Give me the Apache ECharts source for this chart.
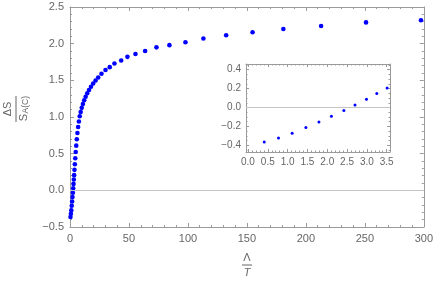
<!DOCTYPE html>
<html>
<head>
<meta charset="utf-8">
<script src="https://cdn.jsdelivr.net/npm/echarts@6/dist/echarts.min.js"></script>
<style>html,body{margin:0;padding:0;background:#fff;}#c{width:436px;height:282px;}</style>
</head>
<body>
<div id="c"></div>
<script>
// Λ/T values and ΔS/S_A(C) values
var lambdaOverT = [0.41, 0.77, 1.115, 1.46, 1.79, 2.105, 2.42, 2.70, 2.99, 3.25, 3.51,
  3.80, 4.12, 4.47, 4.86, 5.29, 5.77, 6.30, 6.89, 7.54, 8.26, 9.06, 9.95, 10.94, 12.04,
  13.26, 14.62, 16.12, 17.79, 19.64, 21.7, 23.9, 26.7, 30.1, 33.7, 37.7, 43.4, 48.7,
  55.5, 63.7, 73.3, 84.3, 97.9, 113.1, 132.4, 154.8, 180.9, 212.9, 251, 297.6];
var deltaS = [-0.364, -0.321, -0.272, -0.211, -0.152, -0.092, -0.032, 0.027, 0.088, 0.148, 0.207,
  0.279, 0.356, 0.437, 0.522, 0.609, 0.697, 0.782, 0.863, 0.939, 1.010, 1.069, 1.125, 1.178, 1.229,
  1.277, 1.324, 1.369, 1.413, 1.456, 1.498, 1.539, 1.59, 1.64, 1.68, 1.73, 1.77, 1.82,
  1.86, 1.90, 1.95, 1.98, 2.02, 2.07, 2.115, 2.155, 2.20, 2.24, 2.29, 2.32];
var insetCount = 11;
var insetXTicks = [0, 0.5, 1.0, 1.5, 2.0, 2.5, 3.0, 3.5];
var insetYTicks = [-0.4, -0.2, 0.0, 0.2, 0.4];

var mainData = lambdaOverT.map(function (x, i) { return [x, deltaS[i]]; });
var insetData = mainData.slice(0, insetCount);

var minorX = [], minorY = [];
for (var k = 0; k <= 35; k++) { if (k % 5) minorX.push(k / 10); }
for (var k2 = -9; k2 <= 9; k2++) { if (k2 % 4) minorY.push(k2 * 0.05); }

var FRAME = '#9a9a9a', LABEL = '#666', FONT = '"Liberation Sans", Arial, sans-serif';
function fmt(v) { var s = Math.abs(v).toFixed(1); return v < -1e-9 ? '\u2212' + s : s; }
function fmtInt(v) { return String(Math.round(v)); }

function mainAxis(pos, opts, f) {
  var a = {
    type: 'value', gridIndex: 0, position: pos,
    axisLine: { show: true, onZero: false, lineStyle: { color: FRAME, width: 1 } },
    axisTick: { show: true, inside: true, length: 4, lineStyle: { color: FRAME } },
    minorTick: { show: true, splitNumber: 5, length: 2, lineStyle: { color: FRAME } },
    splitLine: { show: false }, minorSplitLine: { show: false },
    axisLabel: { show: pos === 'bottom' || pos === 'left', color: LABEL, fontSize: 11, fontFamily: FONT, margin: 6, formatter: f }
  };
  for (var k in opts) a[k] = opts[k];
  return a;
}
function insetAxis(pos, opts, ticks, len, labels, line) {
  var a = {
    type: 'value', gridIndex: 1, position: pos,
    axisLine: { show: line, onZero: false, lineStyle: { color: FRAME, width: 1 } },
    axisTick: { show: true, inside: true, length: len, customValues: ticks, lineStyle: { color: FRAME } },
    splitLine: { show: false },
    axisLabel: labels ? { show: true, customValues: ticks, color: LABEL, fontSize: 10, fontFamily: FONT, margin: 5, formatter: fmt } : { show: false }
  };
  for (var k in opts) a[k] = opts[k];
  return a;
}
var ix = { min: -0.05, max: 3.583 }, iy = { min: -0.47, max: 0.46 };
var mx = { min: 0, max: 300, interval: 50 }, my = { min: -0.5, max: 2.5, interval: 0.5 };

var chart = echarts.init(document.getElementById('c'), null, { renderer: 'canvas' });
chart.setOption({
  animation: false,
  backgroundColor: '#fff',
  grid: [
    { left: 70, top: 7, width: 354, height: 220 },
    { left: 246, top: 64, width: 144, height: 88 }
  ],
  xAxis: [
    mainAxis('bottom', mx, fmtInt), mainAxis('top', mx, fmtInt),
    insetAxis('bottom', ix, insetXTicks, 3, true, true),
    insetAxis('top', ix, insetXTicks, 3, false, true),
    insetAxis('bottom', ix, minorX, 1.5, false, false),
    insetAxis('top', ix, minorX, 1.5, false, false)
  ],
  yAxis: [
    mainAxis('left', my, fmt), mainAxis('right', my, fmt),
    insetAxis('left', iy, insetYTicks, 3, true, true),
    insetAxis('right', iy, insetYTicks, 3, false, true),
    insetAxis('left', iy, minorY, 1.5, false, false),
    insetAxis('right', iy, minorY, 1.5, false, false)
  ],
  series: [
    {
      type: 'scatter', xAxisIndex: 0, yAxisIndex: 0, data: mainData,
      symbolSize: 4.6, itemStyle: { color: '#0000ff', opacity: 1 }, silent: true,
      markLine: { silent: true, symbol: 'none', label: { show: false },
        lineStyle: { color: '#c4c4c4', width: 1, type: 'solid' }, data: [{ yAxis: 0 }] },
      z: 3
    },
    {
      type: 'scatter', xAxisIndex: 2, yAxisIndex: 2, data: insetData,
      symbolSize: 3, itemStyle: { color: '#0000ff', opacity: 1 }, silent: true,
      markLine: { silent: true, symbol: 'none', label: { show: false },
        lineStyle: { color: '#c4c4c4', width: 1, type: 'solid' }, data: [{ yAxis: 0 }] },
      z: 3
    }
  ],
  graphic: [
    {
      type: 'group', x: 16, y: 109, rotation: Math.PI / 2,
      children: [
        { type: 'text', x: 0, y: -3, style: { text: '\u0394S', textAlign: 'center', textVerticalAlign: 'bottom', fontSize: 11, fontFamily: FONT, fill: LABEL } },
        { type: 'line', shape: { x1: -13, y1: 0, x2: 13, y2: 0 }, style: { stroke: LABEL, lineWidth: 1 } },
        { type: 'text', x: -5, y: 2, style: { text: 'S', textAlign: 'right', textVerticalAlign: 'top', fontSize: 11, fontFamily: FONT, fill: LABEL } },
        { type: 'text', x: -4.5, y: 5, style: { text: 'A(C)', textAlign: 'left', textVerticalAlign: 'top', fontSize: 8.5, fontFamily: FONT, fill: LABEL } }
      ]
    },
    {
      type: 'group', x: 247, y: 265,
      children: [
        { type: 'text', x: 0, y: -2, style: { text: '\u039B', textAlign: 'center', textVerticalAlign: 'bottom', fontSize: 11, fontFamily: FONT, fill: LABEL } },
        { type: 'line', shape: { x1: -5, y1: 0, x2: 5, y2: 0 }, style: { stroke: LABEL, lineWidth: 1 } },
        { type: 'text', x: 0, y: 2, style: { text: 'T', textAlign: 'center', textVerticalAlign: 'top', fontSize: 11, fontStyle: 'italic', fontFamily: FONT, fill: LABEL } }
      ]
    }
  ]
});
</script>
</body>
</html>
